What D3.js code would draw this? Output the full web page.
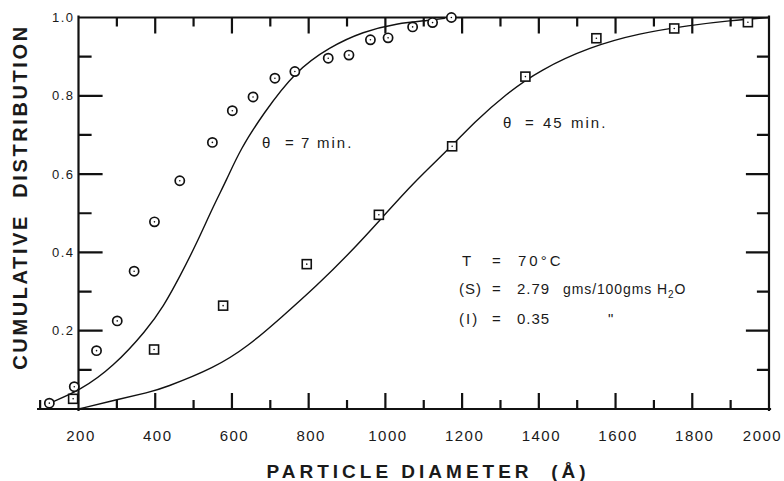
<!DOCTYPE html>
<html><head><meta charset="utf-8">
<script src="https://cdn.jsdelivr.net/npm/d3@7/dist/d3.min.js"></script>
<style>
html,body{margin:0;padding:0;background:#fff;}
svg text{font-family:"Liberation Sans",Arial,sans-serif;fill:#1a1a1a;white-space:pre;}
</style></head>
<body>
<svg id="chart" width="784" height="481"></svg>
<script>
// ---- data ----
const circ7x = [124,189,247,301,345,398,464,549,601,655,712,764,851,905,961,1007,1071,1123,1172];
const circ7y = [0.015,0.057,0.149,0.225,0.352,0.478,0.583,0.681,0.762,0.797,0.845,0.862,0.896,0.904,0.943,0.948,0.976,0.987,1.0];
const sq45x = [186,397,577,795,983,1174,1365,1550,1753,1945];
const sq45y = [0.026,0.152,0.264,0.370,0.496,0.671,0.849,0.947,0.972,0.988];
const curve7x = [124,204,291,378,421,464,508,551,586,621,682,764,855,942,1029,1116,1155];
const curve7y = [0.015,0.047,0.108,0.202,0.261,0.338,0.423,0.517,0.585,0.662,0.755,0.862,0.925,0.964,0.985,0.993,0.998];
const curve45x = [200,291,386,421,555,642,730,821,907,994,1072,1174,1229,1316,1403,1533,1663,1793,1897,2000];
const curve45y = [0,0.022,0.043,0.053,0.105,0.160,0.235,0.315,0.398,0.491,0.577,0.672,0.730,0.806,0.866,0.925,0.960,0.980,0.992,1.0];
const xLabelTicks = [200,400,600,800,1000,1200,1400,1600,1800,2000];
const xMajorTicks = [400,600,800,1000,1200,1400,1600,1800];
const xMinorTicks = [100,300,500,700,900,1100,1300,1500,1700,1900];
const yLabelTicks = [0.2,0.4,0.6,0.8,1.0];
const yMajorTicks = [0.2,0.4,0.6,0.8];
const yMinorTicks = [0.1,0.3,0.5,0.7,0.9];

const svg = d3.select("#chart");
const L = 78.5, R = 769, T = 17.5, B = 409;
const x = d3.scaleLinear().domain([200,2000]).range([L,R]);
const y = d3.scaleLinear().domain([0,1]).range([B,T]);
const ink = "#111";

// tick labels
svg.append("g").attr("transform",`translate(0,${B})`)
  .call(d3.axisBottom(x).tickValues(xLabelTicks).tickSize(0).tickPadding(21).tickFormat(d3.format("d")))
  .call(g=>{g.select(".domain").remove(); g.selectAll(".tick line").remove();
    g.selectAll("text").attr("font-size",15).attr("letter-spacing","1.5px").attr("fill",ink)
     .attr("dx",d=>d===2000?-7:2)
     .attr("font-family","'Liberation Sans',Arial,sans-serif");});
svg.append("g").attr("transform",`translate(${L},0)`)
  .call(d3.axisLeft(y).tickValues(yLabelTicks).tickSize(0).tickPadding(4).tickFormat(d3.format(".1f")))
  .call(g=>{g.select(".domain").remove(); g.selectAll(".tick line").remove();
    g.selectAll("text").attr("font-size",13).attr("letter-spacing","1.5px").attr("fill",ink)
     .attr("font-family","'Liberation Sans',Arial,sans-serif");});

// curves
const line = d3.line().x(d=>x(d[0])).y(d=>y(d[1])).curve(d3.curveBasis);
svg.append("path").datum(d3.zip(curve7x,curve7y)).attr("d",line)
  .attr("fill","none").attr("stroke",ink).attr("stroke-width",1.4);
svg.append("path").datum(d3.zip(curve45x,curve45y)).attr("d",line)
  .attr("fill","none").attr("stroke",ink).attr("stroke-width",1.4);

// frame + tick marks, one path built from the scales
const p = d3.path();
p.moveTo(x(100)-2, B); p.lineTo(R+1, B);
p.moveTo(L, T); p.lineTo(R, T);
p.moveTo(L, T-1); p.lineTo(L, B+1);
p.moveTo(R, T-1); p.lineTo(R, B+1);
function xTicks(vals, y0, len){ vals.forEach(v=>{ p.moveTo(x(v), y0); p.lineTo(x(v), y0+len); }); }
function yTicks(vals, x0, len){ vals.forEach(v=>{ p.moveTo(x0, y(v)); p.lineTo(x0+len, y(v)); }); }
yTicks(yMajorTicks, L, 23);
yTicks(yMinorTicks, L, 12);
yTicks(yMajorTicks, R, -22);
yTicks(yMinorTicks, R, -11);
xTicks(xMajorTicks, T, 15);
xTicks(xMinorTicks.filter(v=>v>200), T, 8);
xTicks(xMajorTicks, B, -15);
xTicks(xMinorTicks, B, -8);
svg.append("path").attr("d", p.toString()).attr("fill","none").attr("stroke",ink)
  .attr("stroke-width",2.2).attr("stroke-linecap","square");

// markers
const cg = svg.append("g");
d3.zip(circ7x,circ7y).forEach(([a,b])=>{
  cg.append("circle").attr("cx",x(a)).attr("cy",y(b)).attr("r",4.6)
    .attr("fill","#fff").attr("stroke",ink).attr("stroke-width",1.7);
  cg.append("circle").attr("cx",x(a)).attr("cy",y(b)).attr("r",0.8).attr("fill",ink);
});
d3.zip(sq45x,sq45y).forEach(([a,b])=>{
  cg.append("rect").attr("x",x(a)-4.5).attr("y",y(b)-4.5).attr("width",9).attr("height",9)
    .attr("fill","#fff").attr("stroke",ink).attr("stroke-width",1.6);
  cg.append("circle").attr("cx",x(a)).attr("cy",y(b)).attr("r",0.8).attr("fill",ink);
});

// annotations
const a1 = svg.append("g").attr("font-size",15).attr("letter-spacing","2px");
[["θ",262],["=",285],["7",301],["min.",317]].forEach(([t,xx])=>a1.append("text").attr("x",xx).attr("y",148).text(t));
[["θ",503],["=",525],["45",543],["min.",571]].forEach(([t,xx])=>a1.append("text").attr("x",xx).attr("y",128).text(t));

const ann = svg.append("g").attr("font-size",15).attr("letter-spacing","1px");
ann.append("text").attr("x",462).attr("y",266).text("T");
ann.append("text").attr("x",459).attr("y",294).text("(S)");
ann.append("text").attr("x",459).attr("y",324).attr("letter-spacing","2px").text("(I)");
[266,294,324].forEach(yy=>ann.append("text").attr("x",492).attr("y",yy).text("="));
ann.append("text").attr("x",518).attr("y",266).attr("letter-spacing","3px").text("70°C");
ann.append("text").attr("x",517).attr("y",294).text("2.79");
ann.append("text").attr("x",517).attr("y",324).text("0.35");
const u = ann.append("text").attr("x",563).attr("y",294).attr("font-size",14).attr("letter-spacing","0.9px").text("gms/100gms H");
u.append("tspan").attr("dy",4).attr("font-size",10).text("2");
u.append("tspan").attr("dy",-4).text("O");
ann.append("text").attr("x",608).attr("y",324).text("\"");

// axis titles
svg.append("text").attr("x",428).attr("y",478).attr("text-anchor","middle")
  .attr("font-size",19).attr("font-weight","bold").attr("letter-spacing","4px")
  .text("PARTICLE DIAMETER  (Å)");
svg.append("text").attr("transform","translate(26.5,197) rotate(-90)").attr("text-anchor","middle")
  .attr("font-size",20).attr("font-weight","bold").attr("letter-spacing","2.6px")
  .text("CUMULATIVE  DISTRIBUTION");
</script>
</body></html>
